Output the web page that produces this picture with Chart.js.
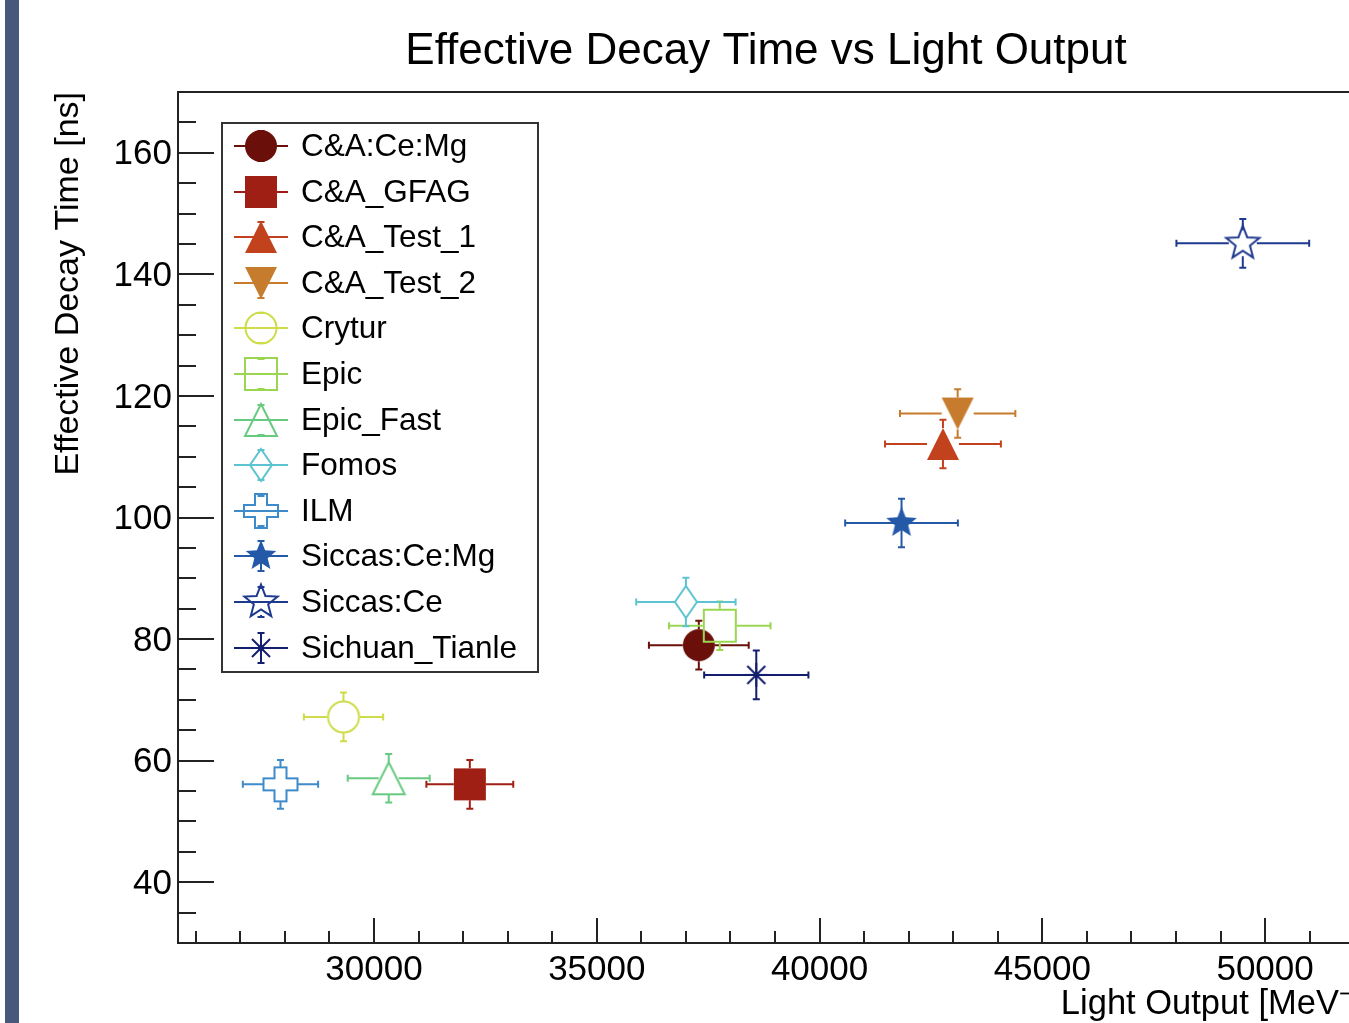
<!DOCTYPE html>
<html>
<head>
<meta charset="utf-8">
<script src="https://cdn.jsdelivr.net/npm/chart.js@4.4.1/dist/chart.umd.min.js"></script>
<style>
html, body { margin: 0; padding: 0; background: #ffffff; overflow: hidden; width: 1349px; height: 1023px; }
#wrap { position: absolute; left: 0; top: 0; width: 1400px; height: 1023px; }
#sidebar { position: absolute; left: 5px; top: 0; width: 14px; height: 1023px; background: #46587c; }
</style>
</head>
<body>
<div id="wrap"><canvas id="c" width="1400" height="1023" style="width:1400px;height:1023px"></canvas></div>
<div id="sidebar"></div>
<script>
// ---------------- data ----------------
const categories = ['C&A:Ce:Mg', 'C&A_GFAG', 'C&A_Test_1', 'C&A_Test_2', 'Crytur', 'Epic', 'Epic_Fast', 'Fomos', 'ILM', 'Siccas:Ce:Mg', 'Siccas:Ce', 'Sichuan_Tianle'];
const lightOutput    = [37290, 32150, 42770, 43100, 29315, 37760, 30330, 37000, 27900, 41840, 49500, 38580];
const lightOutputErr = [1120, 975, 1300, 1295, 890, 1140, 920, 1115, 845, 1265, 1490, 1170];
const decayTime      = [79.0, 56.1, 112.1, 117.1, 67.2, 82.2, 57.1, 86.1, 56.1, 99.1, 145.1, 74.1];
const decayTimeErr   = [4, 4, 4, 4, 4, 4, 4, 4, 4, 4, 4, 4];
// tick positions (minor + major) and the labelled ones
const xTickValues = [26000, 27000, 28000, 29000, 30000, 31000, 32000, 33000, 34000, 35000, 36000, 37000, 38000, 39000, 40000, 41000, 42000, 43000, 44000, 45000, 46000, 47000, 48000, 49000, 50000, 51000, 52000];
const yTickValues = [35, 40, 45, 50, 55, 60, 65, 70, 75, 80, 85, 90, 95, 100, 105, 110, 115, 120, 125, 130, 135, 140, 145, 150, 155, 160, 165];
const xTickLabels = ['30000', '35000', '40000', '45000', '50000'];
const yTickLabels = ['40', '60', '80', '100', '120', '140', '160'];
const chartTitle = 'Effective Decay Time vs Light Output';
const xTitle = 'Light Output [MeV\u207B\u00B9]';
const yTitle = 'Effective Decay Time [ns]';

// ---------------- styles ----------------
const seriesColors = ['#6b0f0b', '#a01f14', '#c2421d', '#c77b2c', '#cddc48', '#9bd651', '#68ca80', '#5cc3d0', '#3e8bcb', '#2459a8', '#1e3a8f', '#141e6e'];
const markerKinds = ['circleF', 'squareF', 'triUpF', 'triDownF', 'circleO', 'squareO', 'triUpO', 'diamondO', 'crossO', 'starF', 'starO', 'asterisk'];
const markerGaps = {
  circleF: [16, 16], squareF: [16, 16], triUpF: [16, 16], triDownF: [16, 16],
  circleO: [16, 16], squareO: [17, 17], triUpO: [10, 16], diamondO: [11, 16],
  crossO: [17, 17], starF: [0, 0], starO: [14, 13], asterisk: [0, 0]
};
const FONT = '"Liberation Sans", Arial, Helvetica, sans-serif';
Chart.defaults.font.family = FONT;
Chart.defaults.color = '#000';

function starPath(ctx, R, r) {
  for (let k = 0; k < 10; k++) {
    const rad = k % 2 === 0 ? R : r;
    const ang = -Math.PI / 2 + k * Math.PI / 5;
    const px = rad * Math.cos(ang), py = rad * Math.sin(ang);
    if (k === 0) ctx.moveTo(px, py); else ctx.lineTo(px, py);
  }
  ctx.closePath();
}

function makeMarker(kind, color) {
  const c = document.createElement('canvas');
  c.width = 48; c.height = 48;
  const ctx = c.getContext('2d');
  ctx.translate(24, 24);
  ctx.fillStyle = color; ctx.strokeStyle = color; ctx.lineWidth = 2; ctx.lineJoin = 'miter';
  ctx.beginPath();
  const base = kind.replace(/[FO]$/, '');
  switch (base) {
    case 'circle': ctx.arc(0, 0, kind === 'circleF' ? 16 : 15.5, 0, Math.PI * 2); break;
    case 'square': ctx.rect(-16, -16, 32, 32); break;
    case 'triUp': ctx.moveTo(0, -16); ctx.lineTo(16, 16); ctx.lineTo(-16, 16); ctx.closePath(); break;
    case 'triDown': ctx.moveTo(0, 16); ctx.lineTo(16, -16); ctx.lineTo(-16, -16); ctx.closePath(); break;
    case 'diamond': ctx.moveTo(0, -16); ctx.lineTo(11, 0); ctx.lineTo(0, 16); ctx.lineTo(-11, 0); ctx.closePath(); break;
    case 'cross': {
      const a = 6, b = 17;
      const pts = [[-a,-b],[a,-b],[a,-a],[b,-a],[b,a],[a,a],[a,b],[-a,b],[-a,a],[-b,a],[-b,-a],[-a,-a]];
      pts.forEach((p, i) => i ? ctx.lineTo(p[0], p[1]) : ctx.moveTo(p[0], p[1]));
      ctx.closePath(); break;
    }
    case 'star': if (kind === 'starF') starPath(ctx, 16, 7); else starPath(ctx, 17.5, 7.5); break;
    case 'asterisk': {
      const L = 12, D = 9;
      ctx.moveTo(-L, 0); ctx.lineTo(L, 0); ctx.moveTo(0, -L); ctx.lineTo(0, L);
      ctx.moveTo(-D, -D); ctx.lineTo(D, D); ctx.moveTo(-D, D); ctx.lineTo(D, -D);
      ctx.stroke();
      ctx.beginPath(); ctx.arc(0, 0, 3, 0, Math.PI * 2); ctx.fill();
      return c;
    }
  }
  if (kind.endsWith('F')) ctx.fill(); else ctx.stroke();
  return c;
}

const datasets = categories.map((name, i) => ({
  label: name,
  data: [{ x: lightOutput[i], y: decayTime[i], xErr: lightOutputErr[i], yErr: decayTimeErr[i] }],
  borderColor: seriesColors[i],
  backgroundColor: seriesColors[i],
  pointStyle: makeMarker(markerKinds[i], seriesColors[i]),
  pointRadius: 16,
  pointHoverRadius: 16,
  showLine: false,
  order: categories.length - i,
  markerKind: markerKinds[i]
}));

// error bars through the library's scales
const errorBars = {
  id: 'errorBars',
  beforeDatasetDraw(chart, args) {
    const ds = chart.data.datasets[args.index];
    const xs = chart.scales.x, ys = chart.scales.y, ctx = chart.ctx;
    const [gx, gy] = markerGaps[ds.markerKind];
    ctx.save();
    ctx.strokeStyle = ds.borderColor; ctx.lineWidth = 2; ctx.lineCap = 'butt';
    args.meta.data.forEach((pt, j) => {
      const d = ds.data[j];
      const px = pt.x, py = pt.y;
      const xl = xs.getPixelForValue(d.x - d.xErr), xr = xs.getPixelForValue(d.x + d.xErr);
      const yt = ys.getPixelForValue(d.y + d.yErr), yb = ys.getPixelForValue(d.y - d.yErr);
      const c = 3.5;
      ctx.beginPath();
      ctx.moveTo(xl, py); ctx.lineTo(px - gx, py);
      ctx.moveTo(px + gx, py); ctx.lineTo(xr, py);
      ctx.moveTo(px, yt); ctx.lineTo(px, py - gy);
      ctx.moveTo(px, py + gy); ctx.lineTo(px, yb);
      ctx.moveTo(xl, py - c); ctx.lineTo(xl, py + c);
      ctx.moveTo(xr, py - c); ctx.lineTo(xr, py + c);
      ctx.moveTo(px - c, yt); ctx.lineTo(px + c, yt);
      ctx.moveTo(px - c, yb); ctx.lineTo(px + c, yb);
      ctx.stroke();
    });
    ctx.restore();
  }
};

// frame and inward ROOT-style ticks, placed from the library's tick list
const frameTicks = {
  id: 'frameTicks',
  afterLayout(chart) {
    // ROOT centres the title on the pad, slightly left of the frame centre
    if (chart.titleBlock) chart.titleBlock.left -= 18;
  },
  beforeDatasetsDraw(chart) {
    const ctx = chart.ctx, a = chart.chartArea, xs = chart.scales.x, ys = chart.scales.y;
    ctx.save();
    ctx.strokeStyle = '#222'; ctx.lineWidth = 2;
    ctx.beginPath();
    ctx.moveTo(a.left, a.top); ctx.lineTo(a.right, a.top); ctx.lineTo(a.right, a.bottom);
    xs.ticks.forEach(t => {
      if (t.value <= xs.min || t.value >= xs.max) return;
      const p = Math.round(xs.getPixelForValue(t.value));
      const len = xTickLabels.includes(String(t.value)) ? 25 : 12;
      ctx.moveTo(p, a.bottom); ctx.lineTo(p, a.bottom - len);
    });
    ys.ticks.forEach(t => {
      if (t.value <= ys.min || t.value >= ys.max) return;
      const p = Math.round(ys.getPixelForValue(t.value));
      const len = yTickLabels.includes(String(t.value)) ? 36 : 18;
      ctx.moveTo(a.left, p); ctx.lineTo(a.left + len, p);
    });
    ctx.stroke();
    ctx.restore();
  }
};

// ROOT-style legend box
const legendBox = {
  id: 'legendBox',
  afterDraw(chart) {
    const ctx = chart.ctx, a = chart.chartArea;
    const L = Math.round(a.left + 44), T = Math.round(a.top + 31), W = 316, H = 549;
    ctx.save();
    ctx.fillStyle = '#fff'; ctx.fillRect(L, T, W, H);
    ctx.strokeStyle = '#333'; ctx.lineWidth = 2; ctx.strokeRect(L, T, W, H);
    chart.data.datasets.forEach((ds, i) => {
      const cy = Math.round(T + 23 + i * 45.6);
      const cx = L + 39;
      const [gx, gy] = markerGaps[ds.markerKind];
      ctx.strokeStyle = ds.borderColor; ctx.lineWidth = 2;
      ctx.beginPath();
      ctx.moveTo(L + 12, cy); ctx.lineTo(L + 66, cy);
      const v = 15;
      if (gy < v) { ctx.moveTo(cx, cy - v); ctx.lineTo(cx, cy - gy); ctx.moveTo(cx, cy + gy); ctx.lineTo(cx, cy + v); }
      ctx.moveTo(cx - 3.5, cy - v); ctx.lineTo(cx + 3.5, cy - v);
      ctx.moveTo(cx - 3.5, cy + v); ctx.lineTo(cx + 3.5, cy + v);
      ctx.stroke();
      ctx.drawImage(ds.pointStyle, cx - 24, cy - 24);
      ctx.fillStyle = '#000'; ctx.font = '31.5px ' + FONT; ctx.textBaseline = 'middle'; ctx.textAlign = 'left';
      ctx.fillText(ds.label, L + 79, cy + 1);
    });
    ctx.restore();
  }
};

new Chart(document.getElementById('c'), {
  type: 'scatter',
  data: { datasets },
  options: {
    responsive: false,
    animation: false,
    devicePixelRatio: 1,
    layout: { padding: { left: 0, right: 28, top: 0, bottom: 0 } },
    plugins: {
      legend: { display: false },
      tooltip: { enabled: false },
      title: {
        display: true, text: chartTitle, color: '#000', fullSize: false,
        font: { size: 44, weight: 'normal', lineHeight: 1.2 },
        padding: { top: 25, bottom: 14.2 }
      }
    },
    scales: {
      x: {
        type: 'linear', position: 'bottom', min: 25600, max: 52400,
        afterFit: s => { s.height = 80; },
        afterBuildTicks: s => { s.ticks = xTickValues.map(v => ({ value: v })); },
        grid: { display: false, drawTicks: false },
        border: { display: true, color: '#222', width: 2 },
        ticks: {
          autoSkip: false, maxRotation: 0, minRotation: 0,
          padding: 6, color: '#000', font: { size: 35 },
          callback: v => xTickLabels.includes(String(v)) ? String(v) : ''
        },
        title: { display: true, text: xTitle, align: 'end', color: '#000', font: { size: 34.5 }, padding: { top: 0, bottom: -2.5 } }
      },
      y: {
        type: 'linear', position: 'left', min: 30, max: 170,
        afterFit: s => { s.width = 178; },
        afterBuildTicks: s => { s.ticks = yTickValues.map(v => ({ value: v })); },
        grid: { display: false, drawTicks: false },
        border: { display: true, color: '#222', width: 2 },
        ticks: {
          autoSkip: false, labelOffset: 2,
          padding: 6, color: '#000', font: { size: 35 },
          callback: v => yTickLabels.includes(String(v)) ? String(v) : ''
        },
        title: { display: true, text: yTitle, align: 'end', color: '#000', font: { size: 34 }, padding: { top: 48, bottom: 0 } }
      }
    }
  },
  plugins: [errorBars, frameTicks, legendBox]
});
</script>
</body>
</html>
